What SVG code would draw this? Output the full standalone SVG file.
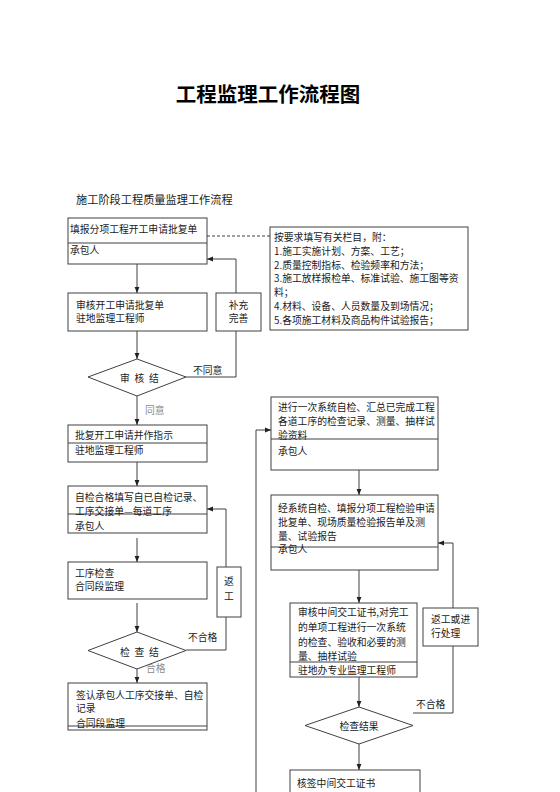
<svg xmlns="http://www.w3.org/2000/svg" width="560" height="792" viewBox="0 0 560 792">
<style>
text{font-family:"Noto Sans CJK SC","Noto Sans",sans-serif;fill:#1a1a1a;font-size:9.8px}
.t{font-size:20.5px;font-weight:bold;fill:#000}
.st{font-size:11.2px}
.g{fill:#8a8a8a}
.b{fill:#fff;stroke:#404040;stroke-width:1}
.l{fill:none;stroke:#404040;stroke-width:1}
.c{fill:none;stroke:#404040;stroke-width:1}
.ca{fill:none;stroke:#404040;stroke-width:1;marker-end:url(#arr)}
.d{fill:none;stroke:#404040;stroke-width:1;stroke-dasharray:3 2}
</style>
<defs>
<marker id="arr" viewBox="0 0 10 10" refX="10" refY="5" markerWidth="6" markerHeight="6" markerUnits="userSpaceOnUse" orient="auto">
<path d="M0,1 L10,5 L0,9 z" fill="#202020"/>
</marker>
</defs>
<rect width="560" height="792" fill="#fff"/>
<text class="t" x="268" y="102" text-anchor="middle">工程监理工作流程图</text>
<text class="st" x="76" y="204">施工阶段工程质量监理工作流程</text>

<g id="connectors">
<line class="d" x1="207" y1="236" x2="270" y2="236"/>
<line class="ca" x1="137" y1="264" x2="137" y2="293"/>
<line class="ca" x1="137" y1="331" x2="137" y2="359"/>
<polyline class="c" points="186,377 236,377 236,331"/>
<polyline class="ca" points="236,293 236,259 207,259"/>
<line class="ca" x1="137" y1="396" x2="137" y2="425"/>
<line class="ca" x1="137" y1="462" x2="137" y2="486"/>
<line class="ca" x1="137" y1="538" x2="137" y2="562"/>
<line class="ca" x1="137" y1="603" x2="137" y2="632"/>
<polyline class="c" points="186,650 226,650 226,617"/>
<polyline class="ca" points="226,567 226,509 207,509"/>
<line class="ca" x1="137" y1="655" x2="137" y2="683"/>
<polyline class="ca" points="256,792 256,430 271,430"/>
<line class="ca" x1="359" y1="470" x2="359" y2="495"/>
<line class="ca" x1="359" y1="570" x2="359" y2="603"/>
<line class="ca" x1="359" y1="677" x2="359" y2="707"/>
<polyline class="c" points="413,713 453,713 453,646"/>
<polyline class="ca" points="453,608 453,543 438,543"/>
<line class="ca" x1="359" y1="744" x2="359" y2="770"/>
<text x="193" y="374">不同意</text>
<text class="g" x="145" y="414">同意</text>
<text x="188" y="641">不合格</text>
<text class="g" x="146" y="672">合格</text>
<text x="416" y="708">不合格</text>
</g>

<g id="n1">
<rect class="b" x="68" y="218" width="139" height="46"/>
<line class="l" x1="68" y1="243" x2="207" y2="243"/>
<text x="70" y="233">填报分项工程开工申请批复单</text>
<text x="70" y="254">承包人</text>
</g>

<g id="n_note">
<rect class="b" x="270" y="227" width="198" height="103"/>
<text x="274" y="241">按要求填写有关栏目，附：</text>
<text x="274" y="254.8">1.施工实施计划、方案、工艺；</text>
<text x="274" y="268.6">2.质量控制指标、检验频率和方法；</text>
<text x="274" y="282.4">3.施工放样报检单、标准试验、施工图等资</text>
<text x="274" y="296.2">料；</text>
<text x="274" y="310">4.材料、设备、人员数量及到场情况；</text>
<text x="274" y="323.8">5.各项施工材料及商品构件试验报告；</text>
</g>

<g id="n2">
<rect class="b" x="68" y="293" width="139" height="38"/>
<text x="76" y="308.5">审核开工申请批复单</text>
<text x="76" y="322">驻地监理工程师</text>
</g>

<g id="n_bc">
<rect class="b" x="216" y="293" width="45" height="38"/>
<text x="238.5" y="308.5" text-anchor="middle">补充</text>
<text x="238.5" y="322" text-anchor="middle">完善</text>
</g>

<g id="n_d1">
<polygon class="b" points="88,377 137,359 186,377 137,396"/>
<text x="120 134.5 149" y="382">审核结</text>
</g>

<g id="n3">
<rect class="b" x="68" y="425" width="139" height="37"/>
<line class="l" x1="68" y1="443" x2="207" y2="443"/>
<text x="75" y="438.5">批复开工申请并作指示</text>
<text x="75" y="454">驻地监理工程师</text>
</g>

<g id="n4">
<rect class="b" x="68" y="486" width="139" height="47"/>
<line class="l" x1="68" y1="514" x2="207" y2="514"/>
<text x="75" y="500.5">自检合格填写自已自检记录、</text>
<text x="75" y="514.5">工序交接单—每道工序</text>
<text x="75" y="529.5">承包人</text>
</g>

<g id="n5">
<rect class="b" x="68" y="562" width="139" height="37"/>
<text x="75" y="576.5">工序检查</text>
<text x="75" y="589.5">合同段监理</text>
</g>

<g id="n_fg">
<rect class="b" x="217" y="567" width="24" height="50"/>
<text x="229" y="585" text-anchor="middle">返</text>
<text x="229" y="600" text-anchor="middle">工</text>
</g>

<g id="n_d2">
<polygon class="b" points="88,650.5 137,632 186,650.5 137,669"/>
<text x="120 134.5 149" y="656" font-size="9">检查结</text>
</g>

<g id="n6">
<rect class="b" x="68" y="683" width="139" height="47"/>
<line class="l" x1="68" y1="726" x2="207" y2="726"/>
<text x="76" y="698.5">签认承包人工序交接单、自检</text>
<text x="76" y="712">记录</text>
<text x="76" y="727">合同段监理</text>
</g>

<g id="r1">
<rect class="b" x="271" y="397" width="167" height="73"/>
<line class="l" x1="271" y1="439" x2="438" y2="439"/>
<text x="278" y="411">进行一次系统自检、汇总已完成工程</text>
<text x="278" y="425">各道工序的检查记录、测量、抽样试</text>
<text x="278" y="438.5">验资料</text>
<text x="278" y="454.5">承包人</text>
</g>

<g id="r2">
<rect class="b" x="271" y="495" width="167" height="75"/>
<line class="l" x1="271" y1="547" x2="438" y2="547"/>
<text x="278" y="512">经系统自检、填报分项工程检验申请</text>
<text x="278" y="526">批复单、现场质量检验报告单及测</text>
<text x="278" y="539.5">量、试验报告</text>
<text x="278" y="552.5">承包人</text>
</g>

<g id="r3">
<rect class="b" x="290" y="603" width="127" height="74"/>
<line class="l" x1="290" y1="662" x2="417" y2="662"/>
<text x="298" y="616">审核中间交工证书,对完工</text>
<text x="298" y="631">的单项工程进行一次系统</text>
<text x="298" y="646">的检查、验收和必要的测</text>
<text x="298" y="660">量、抽样试验</text>
<text x="298" y="674">驻地办专业监理工程师</text>
</g>

<g id="r_fg">
<rect class="b" x="423" y="608" width="55" height="38"/>
<text x="431" y="623">返工或进</text>
<text x="431" y="637">行处理</text>
</g>

<g id="r_d">
<polygon class="b" points="305,725.5 359,707 413,725.5 359,744"/>
<text x="359" y="730" text-anchor="middle">检查结果</text>
</g>

<g id="r4">
<rect class="b" x="290" y="770" width="130" height="30"/>
<text x="297" y="787">核签中间交工证书</text>
</g>
</svg>
